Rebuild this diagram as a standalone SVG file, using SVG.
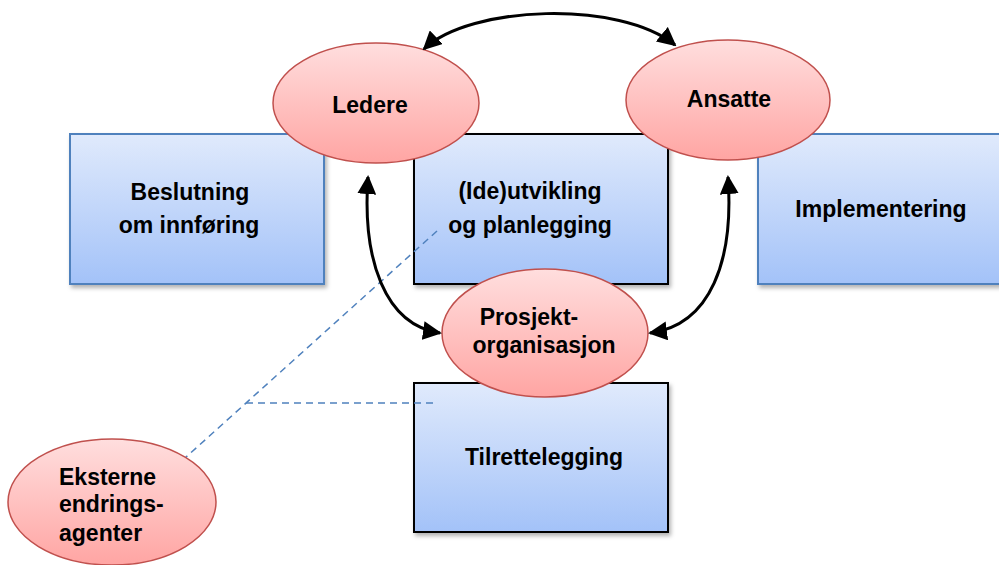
<svg xmlns="http://www.w3.org/2000/svg" width="999" height="565" viewBox="0 0 999 565">
<defs>
<linearGradient id="gb" x1="0" y1="0" x2="0" y2="1"><stop offset="0" stop-color="#e0eafc"/><stop offset="1" stop-color="#a3c2f8"/></linearGradient>
<linearGradient id="gr" x1="0" y1="0" x2="0" y2="1"><stop offset="0" stop-color="#ffdede"/><stop offset="1" stop-color="#ffa5a3"/></linearGradient>
<filter id="sh" x="-10%" y="-10%" width="130%" height="130%"><feDropShadow dx="2" dy="3" stdDeviation="2" flood-color="#000" flood-opacity="0.3"/></filter>
<marker id="ah" viewBox="0 0 10 10" refX="9" refY="5" markerWidth="6.3" markerHeight="6.3" orient="auto-start-reverse" markerUnits="strokeWidth"><path d="M0,0 L10,5 L0,10 Z" fill="#000"/></marker>
</defs>
<style>
.box{fill:url(#gb);filter:url(#sh)}
.bb{stroke:#4f81bd;stroke-width:2}
.bk{stroke:#000;stroke-width:2}
.ell{fill:url(#gr);stroke:#c0504d;stroke-width:1.5}
text{font-family:"Liberation Sans",Arial,sans-serif;font-weight:bold;font-size:23px;fill:#000}
.c{text-anchor:middle}
.arr{fill:none;stroke:#000;stroke-width:3;marker-start:url(#ah);marker-end:url(#ah)}
.dash{fill:none;stroke:#4f81bd;stroke-width:1.5;stroke-dasharray:7 5}
</style>
<g id="beslutning"><rect class="box bb" x="70" y="134" width="254" height="150"/><text class="c" x="190" y="200">Beslutning</text><text class="c" x="189" y="233">om  innføring</text></g>
<g id="ideutvikling"><rect class="box bk" x="414" y="134" width="254" height="150"/><text class="c" x="530" y="199">(Ide)utvikling</text><text class="c" x="530" y="233">og planlegging</text></g>
<g id="implementering"><rect class="box bb" x="758" y="134" width="254" height="150"/><text class="c" x="881" y="217">Implementering</text></g>
<g id="tilrettelegging"><rect class="box bk" x="414" y="383" width="254" height="149"/><text class="c" x="544" y="465">Tilrettelegging</text></g>
<g id="connectors">
<path class="dash" d="M437,231 L185,458"/>
<path class="dash" d="M246,403 L436,403"/>
</g>
<g id="ledere"><ellipse class="ell" cx="376" cy="103" rx="103" ry="60"/><text class="c" x="370" y="113">Ledere</text></g>
<g id="ansatte"><ellipse class="ell" cx="728" cy="100" rx="102" ry="60"/><text class="c" x="729" y="107">Ansatte</text></g>
<g id="prosjekt"><ellipse class="ell" cx="545" cy="333" rx="103" ry="64"/><text class="c" x="529" y="325">Prosjekt-</text><text class="c" x="544" y="353">organisasjon</text></g>
<g id="eksterne"><ellipse class="ell" cx="112" cy="502" rx="104" ry="63"/><text x="59" y="485">Eksterne</text><text x="59" y="512">endrings-</text><text x="59" y="541">agenter</text></g>
<g id="arrows">
<path class="arr" d="M424,49 C470,5 620,0 675,45"/>
<path class="arr" d="M368,177 C362,260 385,325 440,333"/>
<path class="arr" d="M728,177 C734,260 711,325 650,333"/>
</g>
</svg>
